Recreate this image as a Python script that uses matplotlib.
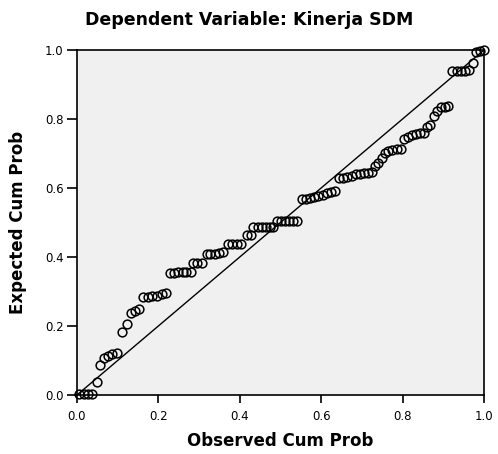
import matplotlib
matplotlib.use("Agg")
from matplotlib import pyplot as plt

# Observed vs expected cumulative probabilities (P-P plot of residuals)
observed = [0.005, 0.016, 0.026, 0.038, 0.048, 0.057, 0.067, 0.077, 0.087, 0.098,
            0.111, 0.122, 0.133, 0.143, 0.153,
            0.163, 0.174, 0.185, 0.197, 0.208, 0.219,
            0.229, 0.239, 0.249, 0.260, 0.269, 0.279,
            0.286, 0.296, 0.306,
            0.319, 0.328, 0.339, 0.349, 0.359,
            0.370, 0.381, 0.392, 0.403,
            0.417, 0.427,
            0.433, 0.444, 0.454, 0.464, 0.474, 0.482,
            0.491, 0.501, 0.511, 0.522, 0.531, 0.541,
            0.552, 0.563, 0.572, 0.582, 0.593, 0.604, 0.614, 0.623, 0.634,
            0.644, 0.654, 0.664, 0.675, 0.686, 0.695, 0.705, 0.716, 0.724,
            0.732, 0.740, 0.749, 0.757, 0.765, 0.775, 0.786, 0.795,
            0.803, 0.814, 0.824, 0.833, 0.843, 0.853,
            0.860, 0.867,
            0.877, 0.884, 0.894, 0.903, 0.912,
            0.921, 0.933, 0.943, 0.953, 0.964, 0.972,
            0.980, 0.990, 1.000]
expected = [0.003, 0.003, 0.003, 0.003, 0.039, 0.087, 0.106, 0.113, 0.119, 0.123,
            0.183, 0.205, 0.239, 0.242, 0.248,
            0.285, 0.285, 0.286, 0.287, 0.292, 0.295,
            0.353, 0.353, 0.357, 0.357, 0.357, 0.357,
            0.383, 0.383, 0.383,
            0.409, 0.409, 0.409, 0.411, 0.415,
            0.437, 0.437, 0.437, 0.437,
            0.464, 0.464,
            0.488, 0.488, 0.488, 0.488, 0.488, 0.488,
            0.505, 0.505, 0.505, 0.505, 0.505, 0.505,
            0.567, 0.567, 0.570, 0.573, 0.576, 0.580, 0.585, 0.587, 0.590,
            0.630, 0.630, 0.633, 0.636, 0.640, 0.641, 0.642, 0.642, 0.645,
            0.664, 0.673, 0.686, 0.700, 0.707, 0.710, 0.712, 0.712,
            0.741, 0.749, 0.754, 0.757, 0.759, 0.760,
            0.778, 0.783,
            0.809, 0.824, 0.834, 0.836, 0.838,
            0.939, 0.940, 0.940, 0.940, 0.942, 0.961,
            0.995, 0.997, 1.000]
ticks = [0.0, 0.2, 0.4, 0.6, 0.8, 1.0]
tick_labels = ["0.0", "0.2", "0.4", "0.6", "0.8", "1.0"]

plt.rcParams['font.family'] = ['DejaVu Sans']

fig = plt.figure(figsize=(4.98, 4.54), dpi=100)
ax = fig.add_axes([0.1546, 0.130, 0.8173, 0.760])
ax.set_facecolor('#f0f0f0')

ax.plot([0, 1], [0, 1], color='black', linewidth=1.0, zorder=2)
ax.plot(observed, expected, linestyle='none', marker='o', markersize=6.3,
        markerfacecolor='none', markeredgecolor='black', markeredgewidth=1.1,
        clip_on=False, zorder=3)

ax.set_xlim(0, 1)
ax.set_ylim(0, 1)
ax.set_xticks(ticks)
ax.set_xticklabels(tick_labels)
ax.set_yticks(ticks)
ax.set_yticklabels(tick_labels)
ax.tick_params(axis='x', direction='out', length=6, width=1.2, labelsize=8.5, pad=5)
ax.tick_params(axis='y', direction='out', length=7.5, width=1.2, labelsize=8.5, pad=2)
for s in ax.spines.values():
    s.set_linewidth(1.2)

ax.set_xlabel('Observed Cum Prob', fontsize=12, fontweight='bold')
ax.xaxis.set_label_coords(0.5, -0.108)
ax.set_ylabel('Expected Cum Prob', fontsize=12, fontweight='bold')
ax.yaxis.set_label_coords(-0.122, 0.5)
fig.text(0.5, 0.957, 'Dependent Variable: Kinerja SDM', ha='center', va='center',
         fontsize=12.5, fontweight='bold')

fig.savefig('out.png', dpi=100)
